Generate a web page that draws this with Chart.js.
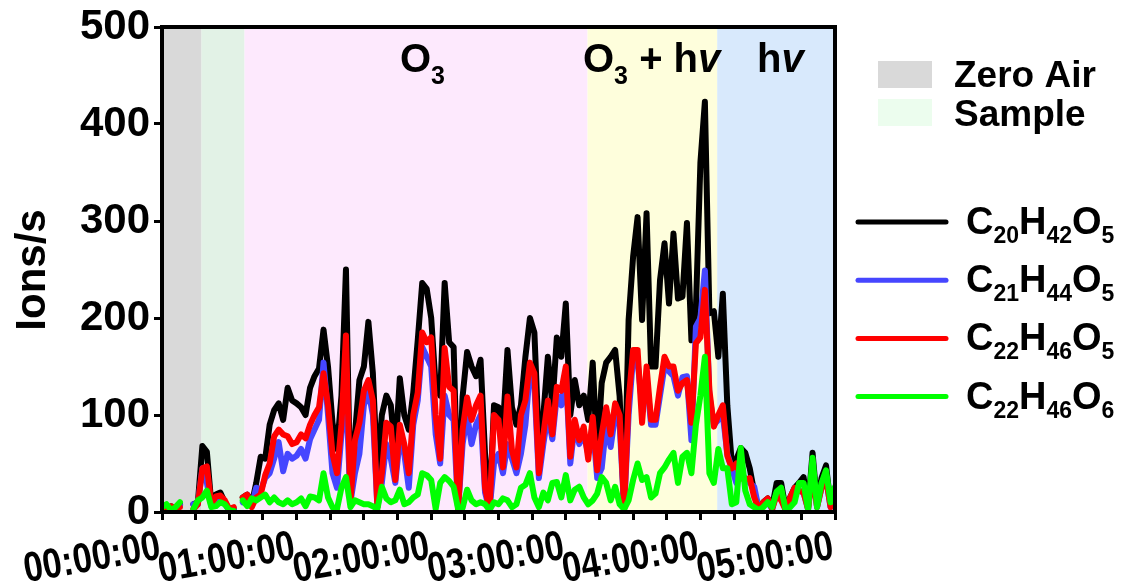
<!DOCTYPE html>
<html>
<head>
<meta charset="utf-8">
<script src="https://cdn.jsdelivr.net/npm/chart.js@4"></script>
<style>
  html, body { margin: 0; padding: 0; background: #fff; }
  #wrap { width: 1125px; height: 581px; position: relative; }
</style>
</head>
<body>
<div id="wrap"><canvas id="myChart"></canvas></div>
<script>
// time grid in minutes (one reading every 2 min, 0..300)
const minutes = [];
for (let m = 0; m <= 300; m += 2) minutes.push(m);

const hourTicks = [0, 60, 120, 180, 240, 300];
const hourLabels = ["00:00:00", "01:00:00", "02:00:00", "03:00:00", "04:00:00", "05:00:00"];

// C20H42O5
const c20h42o5 = [8, 3, 6, 4, 8, null, null, 8, 10, 68, 62, 8, 18, 20, 10, 2, 3, null, 15, 18,
  8, 30, 57, 55, 90, 105, 112, 95, 128, 115, 112, 108, 100, 128, 140, 148, 188, 150, 92, 65,
  120, 250, 12, 80, 136, 150, 196, 143, 40, 100, 120, 110, 60, 138, 100, 85, 123, 177, 236, 230,
  200, 130, 120, 236, 175, 170, 3, 119, 165, 150, 140, 157, 60, 2, 110, 108, 88, 167, 108, 90,
  110, 160, 200, 185, 71, 100, 160, 110, 180, 160, 215, 100, 136, 110, 120, 95, 154, 57, 133, 154,
  160, 167, 119, 3, 198, 263, 304, 198, 308, 150, 150, 239, 277, 215, 287, 220, 222, 298, 177, 210,
  360, 423, 205, 207, 160, 225, 110, 50, 54, 66, 61, 45, 20, 4, 10, 14, 5, 30, 30, 3,
  15, 25, 30, 36, 5, 61, 8, 35, 48, 8, 20];
// C21H44O5
const c21h44o5 = [8, 3, 5, 4, 7, null, null, 8, 8, 45, 30, 6, 12, 15, 8, 2, 3, null, 10, 12,
  6, 25, 22, 35, 40, 55, 72, 42, 60, 55, 58, 65, 55, 75, 85, 95, 154, 100, 40, 25,
  80, 130, 10, 40, 60, 110, 125, 100, 5, 30, 70, 55, 30, 75, 60, 25, 90, 115, 170, 160,
  150, 80, 50, 120, 100, 95, 2, 70, 100, 70, 90, 100, 20, 2, 50, 60, 40, 70, 55, 40,
  60, 90, 145, 130, 35, 70, 100, 75, 120, 110, 145, 50, 90, 70, 80, 60, 90, 35, 45, 90,
  67, 100, 90, 3, 100, 160, 155, 110, 140, 90, 90, 120, 150, 145, 140, 120, 139, 140, 74, 191,
  200, 249, 120, 90, 95, 100, 60, 45, 30, 40, 35, 30, 26, 3, 8, 10, 3, 20, 15, 2,
  12, 20, 22, 20, 3, 45, 5, 25, 35, 5, 15];
// C22H46O5
const c22h46o5 = [5, 3, 6, 4, 5, null, null, 3, 8, 45, 47, 8, 16, 17, 12, 3, 5, null, 15, 18,
  5, 15, 18, 38, 50, 78, 85, 80, 78, 70, 72, 80, 76, 90, 100, 108, 143, 110, 60, 40,
  90, 182, 10, 74, 92, 125, 136, 115, 5, 40, 92, 88, 33, 90, 70, 40, 100, 123, 185, 175,
  180, 100, 55, 169, 129, 125, 2, 85, 118, 95, 110, 120, 25, 2, 100, 95, 46, 119, 64, 46,
  100, 115, 154, 143, 40, 80, 115, 80, 129, 125, 150, 57, 95, 74, 88, 54, 98, 43, 80, 108,
  80, 112, 100, 3, 115, 167, 167, 92, 150, 95, 95, 129, 160, 150, 150, 125, 133, 136, 92, 174,
  180, 229, 126, 88, 100, 110, 58, 45, 50, 35, 33, 35, 15, 3, 10, 14, 3, 18, 12, 2,
  15, 25, 22, 20, 3, 40, 5, 25, 35, 5, 15];
// C22H46O6
const c22h46o6 = [5, 8, 2, 5, 10, null, null, 3, 12, 15, 22, 5, 6, 10, 8, 2, 1, null, 12, 6,
  14, 12, 15, 18, 10, 15, 10, 8, 12, 8, 10, 14, 6, 16, 15, 12, 40, 15, 5, 3,
  25, 36, 5, 12, 10, 8, 8, 6, 3, 26, 14, 10, 12, 23, 8, 10, 15, 18, 40, 38,
  33, 3, 30, 36, 32, 26, 3, 4, 23, 12, 8, 10, 8, 2, 10, 8, 14, 12, 5, 8,
  25, 28, 40, 15, 5, 20, 12, 30, 31, 15, 38, 12, 23, 26, 15, 8, 12, 19, 36, 30,
  12, 26, 8, 3, 12, 33, 50, 33, 36, 15, 19, 40, 46, 54, 61, 30, 57, 61, 40, 90,
  120, 160, 40, 30, 65, 45, 45, 8, 10, 66, 22, 8, 5, 2, 5, 10, 5, 21, 25, 2,
  5, 10, 30, 30, 2, 56, 5, 30, 43, 10, 26];

// shaded phases (start, end in minutes)
const phaseNames = ["Zero Air", "Sample", "O3", "O3 + hv", "hv"];
const phaseStart = [0, 17.6, 36.8, 189.7, 247.5];
const phaseEnd = [17.6, 36.8, 189.7, 247.5, 300];
const phaseColors = ["#d9d9d9", "#e2f2e6", "#fde9fd", "#fefedc", "#d8e9fc"];

const seriesColors = ["#000000", "#4646ff", "#ff0000", "#00ff00"];
// formula pieces: [atom, count, atom, count, atom, count]
const seriesFormulas = [
  ["C", "20", "H", "42", "O", "5"],
  ["C", "21", "H", "44", "O", "5"],
  ["C", "22", "H", "46", "O", "5"],
  ["C", "22", "H", "46", "O", "6"],
];

const FONT = "'Liberation Sans', Arial, Helvetica, sans-serif";

function drawParts(ctx, x, y, parts) {
  parts.forEach((p) => {
    ctx.font = (p.italic ? "italic " : "") + "bold " + p.size + "px " + FONT;
    ctx.fillText(p.t, x, y + (p.dy || 0));
    x += ctx.measureText(p.t).width;
  });
}

const phasePlugin = {
  id: "phases",
  beforeDatasetsDraw(chart) {
    const ctx = chart.ctx;
    const area = chart.chartArea;
    const xs = chart.scales.x;
    ctx.save();
    phaseStart.forEach((s, i) => {
      const x0 = xs.getPixelForValue(s);
      const x1 = xs.getPixelForValue(phaseEnd[i]);
      ctx.fillStyle = phaseColors[i];
      ctx.fillRect(x0, area.top, x1 - x0, area.bottom - area.top);
    });
    ctx.restore();
  },
  afterDatasetsDraw(chart) {
    const ctx = chart.ctx;
    const a = chart.chartArea;
    ctx.save();
    ctx.strokeStyle = "#000";
    ctx.lineWidth = 4;
    ctx.strokeRect(a.left, a.top, a.right - a.left, a.bottom - a.top);
    ctx.restore();
  },
  afterDraw(chart) {
    const ctx = chart.ctx;
    const xs = chart.scales.x;
    ctx.save();
    ctx.fillStyle = "#000";
    ctx.textBaseline = "alphabetic";
    ctx.textAlign = "left";

    // phase labels
    drawParts(ctx, 400, 72, [{ t: "O", size: 40 }, { t: "3", size: 25, dy: 12 }]);
    drawParts(ctx, 583, 72, [
      { t: "O", size: 40 }, { t: "3", size: 25, dy: 12 },
      { t: " + h", size: 40 }, { t: "v", size: 40, italic: true },
    ]);
    drawParts(ctx, 757, 72, [{ t: "h", size: 40 }, { t: "v", size: 40, italic: true }]);

    // phase legend
    ctx.fillStyle = "#d9d9d9";
    ctx.fillRect(878, 61, 54, 27);
    ctx.fillStyle = "#ecfdee";
    ctx.fillRect(878, 99, 54, 27);
    ctx.fillStyle = "#000";
    drawParts(ctx, 954, 87, [{ t: phaseNames[0], size: 37 }]);
    drawParts(ctx, 954, 126, [{ t: phaseNames[1], size: 37 }]);

    // series legend
    seriesFormulas.forEach((f, i) => {
      const y = 222 + i * 58.2;
      ctx.strokeStyle = seriesColors[i];
      ctx.lineWidth = 5;
      ctx.lineCap = "round";
      ctx.beginPath();
      ctx.moveTo(858, y);
      ctx.lineTo(946, y);
      ctx.stroke();
      ctx.fillStyle = "#000";
      drawParts(ctx, 966, y + 12, [
        { t: f[0], size: 38 }, { t: f[1], size: 23, dy: 9 },
        { t: f[2], size: 38 }, { t: f[3], size: 23, dy: 9 },
        { t: f[4], size: 38 }, { t: f[5], size: 23, dy: 9 },
      ]);
    });

    // x tick labels: tall condensed digits, slightly rotated, ending at the tick
    hourTicks.forEach((v, i) => {
      ctx.save();
      ctx.translate(xs.getPixelForValue(v) - 2, 547);
      ctx.rotate(-10 * Math.PI / 180);
      ctx.scale(0.82, 1);
      ctx.textAlign = "right";
      ctx.textBaseline = "middle";
      ctx.font = "bold 42px " + FONT;
      ctx.fillText(hourLabels[i], 0, 0);
      ctx.restore();
    });

    // y axis title
    ctx.translate(33, 270);
    ctx.rotate(-Math.PI / 2);
    ctx.textAlign = "center";
    ctx.textBaseline = "middle";
    ctx.font = "bold 42px " + FONT;
    ctx.fillText("Ions/s", 0, 0);
    ctx.restore();
  },
};

function makeSet(label, data, color, order) {
  return {
    label: label,
    data: data,
    borderColor: color,
    backgroundColor: color,
    borderWidth: 6,
    pointRadius: 0,
    tension: 0,
    spanGaps: false,
    borderJoinStyle: "round",
    borderCapStyle: "round",
    order: order,
  };
}

const ctx = document.getElementById("myChart").getContext("2d");
new Chart(ctx, {
  type: "line",
  data: {
    labels: minutes,
    datasets: [
      makeSet("C20H42O5", c20h42o5, seriesColors[0], 4),
      makeSet("C21H44O5", c21h44o5, seriesColors[1], 3),
      makeSet("C22H46O5", c22h46o5, seriesColors[2], 2),
      makeSet("C22H46O6", c22h46o6, seriesColors[3], 1),
    ],
  },
  options: {
    responsive: true,
    maintainAspectRatio: false,
    animation: false,
    events: [],
    layout: { padding: { top: 27, right: 290, left: 0, bottom: 0 } },
    plugins: { legend: { display: false }, tooltip: { enabled: false } },
    scales: {
      x: {
        type: "linear",
        min: 0,
        max: 300,
        border: { display: false },
        grid: {
          drawOnChartArea: false,
          drawTicks: true,
          tickLength: 8,
          tickWidth: 3,
          tickColor: "#000",
        },
        ticks: {
          stepSize: 15,
          autoSkip: false,
          maxRotation: 0,
          color: "#000",
          callback: function () { return ""; },
        },
        afterFit: function (scale) {
          scale.height = 69;
          scale.paddingLeft = 0;
          scale.paddingRight = 0;
        },
      },
      y: {
        min: 0,
        max: 500,
        border: { display: false },
        grid: {
          drawOnChartArea: false,
          drawTicks: true,
          tickLength: 8,
          tickWidth: 3,
          tickColor: "#000",
        },
        ticks: {
          stepSize: 100,
          padding: 4,
          color: "#000",
          font: { family: FONT, size: 42, weight: "bold" },
        },
        afterFit: function (scale) {
          scale.width = 162;
          scale.paddingTop = 0;
          scale.paddingBottom = 0;
        },
      },
    },
  },
  plugins: [phasePlugin],
});
</script>
</body>
</html>
